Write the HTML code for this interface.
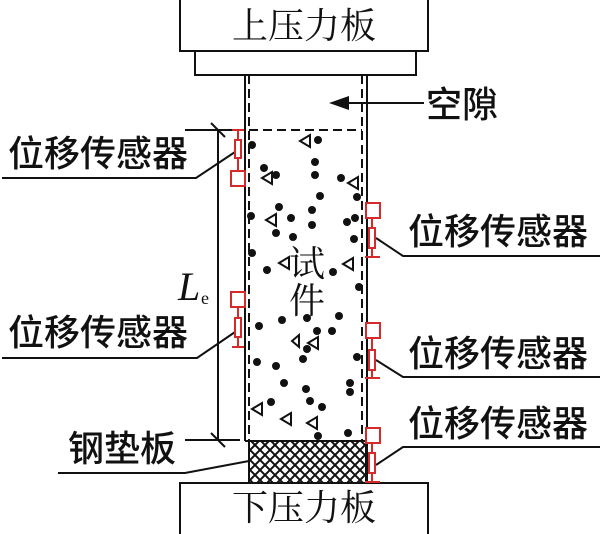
<!DOCTYPE html>
<html><head><meta charset="utf-8"><style>
html,body{margin:0;padding:0;background:#fff;}
svg{display:block;}
.l{font-family:"Liberation Sans","Noto Sans CJK SC",sans-serif;font-size:36px;fill:#111;font-weight:500;}
.s{font-family:"Liberation Serif","Noto Serif CJK SC",serif;font-size:36px;fill:#111;}
</style></head><body>
<svg width="600" height="534" viewBox="0 0 600 534" xmlns="http://www.w3.org/2000/svg">
<defs>
<pattern id="h" width="10" height="10" patternUnits="userSpaceOnUse">
<path d="M-1,-1 L11,11 M-1,9 L1,11 M9,-1 L11,1 M11,-1 L-1,11 M1,-1 L-1,1 M11,9 L9,11" stroke="#111" stroke-width="2"/>
</pattern>
</defs>
<g fill="none" stroke="#111" stroke-width="2">
<path d="M180,0 V51 H428 V0"/>
<rect x="195" y="51" width="221" height="24"/>
<path d="M180,534 V483 H428 V534"/>
<line x1="245" y1="75" x2="245" y2="441"/>
<line x1="367" y1="75" x2="367" y2="483"/>
<line x1="245" y1="441" x2="367" y2="441"/>
<line x1="249" y1="75" x2="249" y2="441" stroke-dasharray="9,5"/>
<line x1="362" y1="75" x2="362" y2="441" stroke-dasharray="9,5"/>
<line x1="249" y1="130" x2="362" y2="130" stroke-dasharray="9,5"/>
<line x1="185" y1="130" x2="245" y2="130"/>
<line x1="185" y1="440" x2="240" y2="440"/>
<line x1="218" y1="130" x2="218" y2="440"/>
<line x1="211" y1="123" x2="225" y2="137"/>
<line x1="211" y1="433" x2="225" y2="447"/>
<line x1="340" y1="103" x2="424" y2="103"/>
<path d="M238,150 L196,178 H2"/>
<path d="M238,330 L197,358 H2"/>
<path d="M249,461 L185,473 H58"/>
<path d="M376,238 L403,256 H600"/>
<path d="M376,360 L403,377 H600"/>
<path d="M376,465 L403,447 H600"/>
</g>
<polygon points="329,103 349,96 349,110" fill="#111"/>
<rect x="249" y="441" width="117" height="42" fill="url(#h)" stroke="#111" stroke-width="2"/>
<g fill="#fff" stroke="#d42a2a" stroke-width="2">
<line x1="238" y1="130" x2="238" y2="172"/><line x1="232" y1="130" x2="244" y2="130"/>
<rect x="235" y="140" width="6" height="18"/><rect x="231" y="171" width="14" height="15"/>
<line x1="238" y1="306" x2="238" y2="347"/><line x1="232" y1="347" x2="244" y2="347"/>
<rect x="231" y="292" width="14" height="15"/><rect x="235" y="318" width="6" height="19"/>
<line x1="372" y1="217" x2="372" y2="257"/><line x1="365" y1="257" x2="380" y2="257"/>
<rect x="366" y="203" width="14" height="15"/><rect x="369" y="228" width="6" height="20"/>
<line x1="372" y1="338" x2="372" y2="378"/><line x1="365" y1="378" x2="380" y2="378"/>
<rect x="366" y="323" width="14" height="15"/><rect x="369" y="350" width="6" height="20"/>
<line x1="372" y1="443" x2="372" y2="482"/><line x1="365" y1="482" x2="380" y2="482"/>
<rect x="366" y="428" width="14" height="15"/><rect x="369" y="453" width="6" height="20"/>
</g>
<g fill="#111">
<circle cx="252" cy="145" r="4"/><circle cx="318" cy="140" r="4"/><circle cx="315" cy="162" r="4"/><circle cx="264" cy="168" r="4"/><circle cx="276" cy="175" r="4"/><circle cx="315" cy="175" r="4"/><circle cx="341" cy="178" r="4"/><circle cx="357" cy="197" r="4"/><circle cx="320" cy="196" r="4"/><circle cx="279" cy="207" r="4"/><circle cx="312" cy="210" r="4"/><circle cx="251" cy="216" r="4"/><circle cx="291" cy="218" r="4"/><circle cx="355" cy="218" r="4"/><circle cx="347" cy="222" r="4"/><circle cx="312" cy="225" r="4"/><circle cx="276" cy="233" r="4"/><circle cx="293" cy="237" r="4"/><circle cx="354" cy="239" r="4"/><circle cx="252" cy="253" r="4"/><circle cx="267" cy="270" r="4"/><circle cx="333" cy="272" r="4"/>
<circle cx="359" cy="287" r="4"/><circle cx="259" cy="326" r="4"/><circle cx="282" cy="320" r="4"/><circle cx="307" cy="318" r="4"/><circle cx="339" cy="316" r="4"/><circle cx="317" cy="331" r="4"/><circle cx="332" cy="331" r="4"/><circle cx="307" cy="349" r="4"/><circle cx="303" cy="359" r="4"/><circle cx="257" cy="362" r="4"/><circle cx="276" cy="366" r="4"/><circle cx="284" cy="383" r="4"/><circle cx="357" cy="357" r="4"/><circle cx="306" cy="389" r="4"/><circle cx="350" cy="383" r="4"/><circle cx="350" cy="392" r="4"/><circle cx="310" cy="401" r="4"/><circle cx="271" cy="402" r="4"/><circle cx="322" cy="407" r="4"/><circle cx="318" cy="436" r="4"/><circle cx="348" cy="433" r="4"/>
</g>
<g fill="none" stroke="#111" stroke-width="2">
<polygon points="300,141 310,135 310,147"/><polygon points="262,178 272,172 272,184"/><polygon points="348,183 358,177 358,189"/><polygon points="266,220 276,214 276,226"/><polygon points="279,263 289,257 289,269"/><polygon points="343,264 353,258 353,270"/>
<polygon points="292,341 299,335 299,347"/><polygon points="308,343 318,337 318,349"/><polygon points="252,409 262,403 262,415"/><polygon points="281,419 291,413 291,425"/><polygon points="307,423 317,417 317,429"/>
</g>
<text class="s" x="232" y="38">上压力板</text>
<text class="s" x="232" y="520">下压力板</text>
<text class="s" x="289" y="276" font-size="34">试</text>
<text class="s" x="289" y="313" font-size="34">件</text>
<text class="l" x="426" y="117">空隙</text>
<text class="l" x="8" y="166">位移传感器</text>
<text class="l" x="8" y="345">位移传感器</text>
<text class="l" x="68" y="461">钢垫板</text>
<text class="l" x="408" y="244">位移传感器</text>
<text class="l" x="408" y="366">位移传感器</text>
<text class="l" x="408" y="436">位移传感器</text>
<text x="178" y="300" font-family="Liberation Serif,serif" font-style="italic" font-size="40" fill="#111">L</text>
<text x="201" y="304" font-family="Liberation Serif,serif" font-size="18" fill="#111">e</text>
</svg>
</body></html>
